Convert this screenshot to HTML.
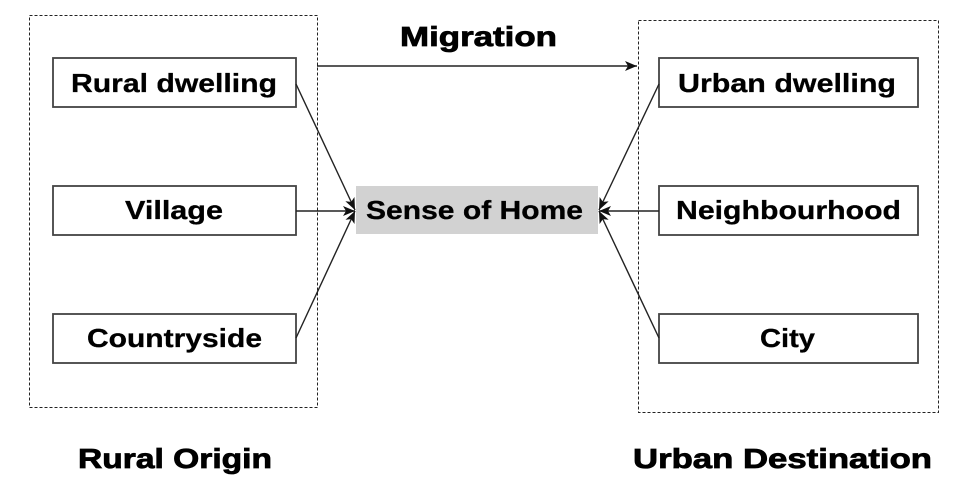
<!DOCTYPE html>
<html>
<head>
<meta charset="utf-8">
<style>
html,body{margin:0;padding:0;background:#fff;}
svg{display:block;}
text{font-family:"Liberation Sans",Arial,sans-serif;font-weight:bold;fill:#000;}
</style>
</head>
<body>
<svg width="980" height="479" viewBox="0 0 980 479" xmlns="http://www.w3.org/2000/svg">
<defs>
<marker id="ah" markerWidth="12" markerHeight="10" refX="12" refY="5" orient="auto" markerUnits="userSpaceOnUse">
<path d="M0,0 L12,5 L0,10 L3,5 Z" fill="#111"/>
</marker>
</defs>

<!-- dashed containers -->
<rect x="29.5" y="15.5" width="288" height="392" fill="none" stroke="#222" stroke-width="1" stroke-dasharray="3,2"/>
<rect x="638.5" y="20.5" width="300" height="392" fill="none" stroke="#222" stroke-width="1" stroke-dasharray="3,2"/>

<!-- left boxes -->
<rect x="53" y="58" width="243" height="49" fill="#fff" stroke="#444" stroke-width="1.8"/>
<rect x="53" y="186" width="243" height="49" fill="#fff" stroke="#444" stroke-width="1.8"/>
<rect x="53" y="314" width="243" height="49" fill="#fff" stroke="#444" stroke-width="1.8"/>

<!-- right boxes -->
<rect x="659" y="58" width="259" height="49" fill="#fff" stroke="#444" stroke-width="1.8"/>
<rect x="659" y="186" width="259" height="49" fill="#fff" stroke="#444" stroke-width="1.8"/>
<rect x="659" y="314" width="259" height="49" fill="#fff" stroke="#444" stroke-width="1.8"/>

<!-- center -->
<rect x="356" y="186" width="242" height="48" fill="#d2d2d2"/>

<!-- connectors -->
<g stroke="#222" stroke-width="1.4" fill="none">
<line x1="317" y1="66" x2="637" y2="66" marker-end="url(#ah)"/>
<line x1="296" y1="84" x2="355" y2="210" marker-end="url(#ah)"/>
<line x1="296" y1="211" x2="355" y2="211" marker-end="url(#ah)"/>
<line x1="296" y1="338" x2="355" y2="211" marker-end="url(#ah)"/>
<line x1="659" y1="84" x2="599" y2="210" marker-end="url(#ah)"/>
<line x1="659" y1="211" x2="599" y2="211" marker-end="url(#ah)"/>
<line x1="659" y1="338" x2="599" y2="211" marker-end="url(#ah)"/>
</g>

<!-- box labels -->
<g stroke="#000" stroke-width="0.3">
<text x="71" y="92" font-size="26" textLength="206" lengthAdjust="spacingAndGlyphs">Rural dwelling</text>
<text x="125" y="219" font-size="26" textLength="98" lengthAdjust="spacingAndGlyphs">Village</text>
<text x="87" y="347" font-size="26" textLength="175" lengthAdjust="spacingAndGlyphs">Countryside</text>

<text x="678" y="92" font-size="26" textLength="218" lengthAdjust="spacingAndGlyphs">Urban dwelling</text>
<text x="676" y="219" font-size="26" textLength="225" lengthAdjust="spacingAndGlyphs">Neighbourhood</text>
<text x="760" y="347" font-size="26" textLength="55" lengthAdjust="spacingAndGlyphs">City</text>

<text x="366" y="219" font-size="26" textLength="217" lengthAdjust="spacingAndGlyphs">Sense of Home</text>
</g>

<!-- titles -->
<text x="400" y="46" font-size="28" stroke="#000" stroke-width="0.8" textLength="157" lengthAdjust="spacingAndGlyphs">Migration</text>
<text x="78" y="468" font-size="28" stroke="#000" stroke-width="0.8" textLength="194" lengthAdjust="spacingAndGlyphs">Rural Origin</text>
<text x="633" y="468" font-size="28" stroke="#000" stroke-width="0.8" textLength="299" lengthAdjust="spacingAndGlyphs">Urban Destination</text>
</svg>
</body>
</html>
